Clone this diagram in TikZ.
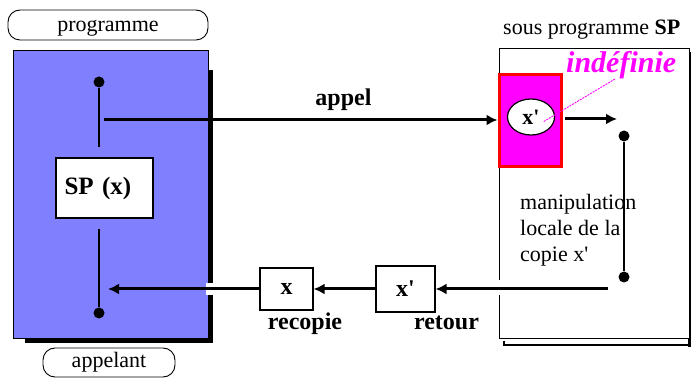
\documentclass[tikz,border=0pt]{standalone}
\usepackage{fontspec}
\setmainfont{Liberation Serif}
\newfontfamily\plainserif{Liberation Serif}
\usetikzlibrary{arrows.meta,shapes.geometric,calc}
\definecolor{bluefill}{RGB}{128,128,255}
\definecolor{mag}{RGB}{255,0,255}
\newcommand{\sq}{{\plainserif'}}
\tikzset{
 lbl/.style={font=\fontsize{22}{26}\selectfont, inner sep=0pt},
 blbl/.style={font=\bfseries\fontsize{24}{26}\selectfont, inner sep=0pt},
 pill/.style={draw, rounded corners=12pt, line width=0.9pt},
 dotnode/.style={circle, fill, inner sep=0pt, minimum size=11pt},
 conn/.style={line width=2pt},
 arr/.style={line width=3pt, -{Latex[length=11pt,width=11pt]}},
 valbox/.style={draw, line width=1.2pt, fill=white, inner sep=0pt, font=\bfseries\fontsize{24}{26}\selectfont},
}
\begin{document}
\begin{tikzpicture}[x=1pt,y=-1pt]
\useasboundingbox[fill=white] (0,0) rectangle (691,379);
% caller
\node[pill, lbl, minimum width=200pt, minimum height=30pt, text height=16pt, text depth=2pt] (prog) at (108,25) {programme};
\fill (208,70) rectangle (213,343);
\fill (25,338) rectangle (213,343);
\node[draw, line width=1.2pt, fill=bluefill, inner sep=0pt, minimum width=195pt, minimum height=288pt, anchor=north west] (caller) at (13,50) {};
\node[dotnode] (d1) at (99,82) {};
\node[dotnode] (d2) at (99,313) {};
\node[valbox, minimum width=97pt, minimum height=60pt, text width=80pt, align=left, font=\bfseries\fontsize{25}{26}\selectfont] (spx) at (104.5,188) {SP (x)};
\draw[conn, shorten >=10pt] (d1) -- (d1 |- spx.north);
\draw[conn, shorten >=10pt] (d2) -- (d2 |- spx.south);
\node[pill, lbl, minimum width=132pt, minimum height=29pt, text height=12pt, text depth=3pt] (appl) at (109,362.5) {appelant};
% sub-program
\fill (688,52) rectangle (691,347);
\draw[line width=2pt] (503.5,341) -- (503.5,345) -- (691,345);
\node[draw, line width=1.2pt, fill=white, inner sep=0pt, minimum width=190pt, minimum height=290pt, anchor=north west] (sub) at (499,48) {};
\node[lbl, anchor=base west] (subt) at (503,35) {sous programme \textbf{SP}};
\node[draw=red, line width=3pt, fill=mag, inner sep=0pt, minimum width=62pt, minimum height=92pt] (mbox) at (530,121) {};
\node[draw, ellipse, fill=white, line width=1.2pt, inner sep=0pt, minimum width=47pt, minimum height=36pt, font=\bfseries\fontsize{22}{24}\selectfont] (xc) at (531,117) {x\sq};
\node[font=\bfseries\itshape\fontsize{30}{32}\selectfont, text=mag, anchor=base west, inner sep=0pt] (indef) at (566,73) {indéfinie};
\coordinate (i0) at (615,79);
\coordinate (ip) at (543,122);
\draw[mag, line width=0.9pt, dash pattern=on 2pt off 1pt] (i0) -- (ip);
% appel
\coordinate (a0) at (104,120);
\draw[arr] (a0) -- (a0 -| mbox.west);
\node[blbl, anchor=base] (appel) at (343.5,106) {appel};
\coordinate (c1) at (617,119);
\draw[arr, shorten <=10pt] (xc.east |- c1) -- (c1);
\node[dotnode] (d3) at (624,136) {};
\node[dotnode] (d4) at (624,277) {};
\draw[conn] (d3) -- (d4);
\node[lbl, align=left, anchor=north west] (manip) at (520,194) {manipulation\\locale de la\\copie x\sq};
% retour
\fill[white] (206,283) rectangle (214,295);
\fill[white] (496,280) rectangle (502,295);
\coordinate (r0) at (608,289);
\node[valbox, minimum width=59pt, minimum height=46pt] (xp) at (405.5,289) {x\sq};
\node[valbox, minimum width=53pt, minimum height=42pt] (xb) at (286.5,289) {x};
\coordinate (r3) at (108,289);
\draw[arr] (r0) -- (xp);
\draw[arr] (xp) -- (xb);
\draw[arr] (xb) -- (r3);
\node[blbl, anchor=base] (recop) at (305,330) {recopie};
\node[blbl, anchor=base] (ret) at (446.5,330) {retour};
\end{tikzpicture}
\end{document}
